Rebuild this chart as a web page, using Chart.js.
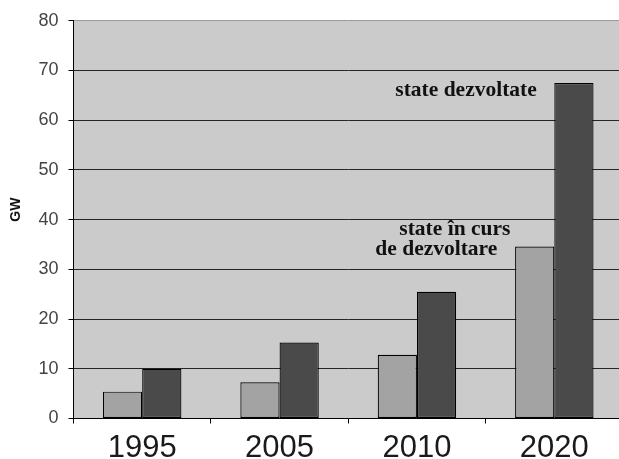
<!DOCTYPE html>
<html>
<head>
<meta charset="utf-8">
<script src="https://cdn.jsdelivr.net/npm/chart.js@4"></script>
<style>
  html, body { margin: 0; padding: 0; background: #ffffff; overflow: hidden; }
  /* the plot runs slightly past the right edge of the window */
  #wrap { width: 623px; height: 459px; position: relative; }
</style>
</head>
<body>
<div id="wrap"><canvas id="c"></canvas></div>
<script>
// Installed wind power capacity (GW) by year
const categories = ['1995', '2005', '2010', '2020'];
const developing = [5.4, 7.3, 12.8, 34.6];   // state în curs de dezvoltare
const developed = [10, 15.3, 25.5, 67.5];    // state dezvoltate
const yMin = 0, yMax = 80, yStep = 10;
const yTitle = 'GW';

// In-plot series captions: text, category anchor, pixel offset from it, baseline value
const captions = [
  { text: 'state dezvoltate', cat: 3, dx: -159, value: 64.8 },
  { text: 'state în curs', cat: 3, dx: -155, value: 36.9 },
  { text: 'de dezvoltare', cat: 3, dx: -179, value: 32.9 }
];

const PLOT_BG = '#cbcbcb';
const GRID = '#262626';

const plotBackground = {
  id: 'plotBackground',
  beforeDraw(chart) {
    const { ctx, chartArea } = chart;
    ctx.save();
    ctx.fillStyle = PLOT_BG;
    ctx.fillRect(chartArea.left, chartArea.top, chartArea.right - chartArea.left, chartArea.bottom - chartArea.top);
    ctx.restore();
  }
};

// Captions inside the plot and the rotated axis title
const chartTexts = {
  id: 'chartTexts',
  afterDatasetsDraw(chart) {
    const { ctx, scales } = chart;
    ctx.save();
    ctx.fillStyle = '#111111';
    ctx.font = 'bold 21.5px "Liberation Serif", "Times New Roman", serif';
    ctx.textAlign = 'left';
    ctx.textBaseline = 'alphabetic';
    captions.forEach(c => {
      const px = scales.x.getPixelForValue(c.cat) + c.dx;
      const py = scales.y.getPixelForValue(c.value);
      ctx.fillText(c.text, px, py);
    });
    ctx.restore();

    ctx.save();
    ctx.fillStyle = '#111111';
    ctx.font = 'bold 14px "Liberation Sans", Arial, sans-serif';
    ctx.textAlign = 'center';
    ctx.textBaseline = 'middle';
    ctx.translate(16, scales.y.getPixelForValue(42));
    ctx.rotate(-Math.PI / 2);
    ctx.fillText(yTitle, 0, 0);
    ctx.restore();
  }
};

new Chart(document.getElementById('c'), {
  type: 'bar',
  data: {
    labels: categories,
    datasets: [
      {
        label: 'state în curs de dezvoltare',
        data: developing,
        backgroundColor: '#a3a3a3',
        borderColor: '#000000',
        borderWidth: 1.2,
        borderSkipped: false
      },
      {
        label: 'state dezvoltate',
        data: developed,
        backgroundColor: '#4a4a4a',
        borderColor: '#000000',
        borderWidth: 1.2,
        borderSkipped: false
      }
    ]
  },
  options: {
    responsive: true,
    maintainAspectRatio: false,
    animation: false,
    devicePixelRatio: 1,
    layout: { padding: { top: 19, right: 0, left: 0, bottom: 0 } },
    datasets: { bar: { barPercentage: 1.0, categoryPercentage: 0.571 } },
    plugins: {
      legend: { display: false },
      tooltip: { enabled: false }
    },
    scales: {
      x: {
        grid: {
          drawOnChartArea: false,
          drawTicks: true,
          tickLength: 5,
          // the closing boundary line after the last category has no tick context
          tickColor: ctx => (ctx.type === 'tick' && ctx.index < categories.length) ? '#000000' : 'rgba(0,0,0,0)',
          offset: true
        },
        border: { display: true, color: '#000000', width: 1 },
        ticks: {
          color: '#1a1a1a',
          padding: 6,
          font: { family: '"Liberation Sans", Arial, sans-serif', size: 31 }
        },
        afterFit(s) { s.height = 40.5; }
      },
      y: {
        min: yMin,
        max: yMax,
        ticks: {
          stepSize: yStep,
          color: '#444444',
          padding: 10,
          font: { family: '"Liberation Sans", Arial, sans-serif', size: 18 }
        },
        grid: {
          drawOnChartArea: true,
          drawTicks: true,
          tickLength: 5,
          lineWidth: 1,
          color: ctx => (ctx.tick && ctx.tick.value === yMax) ? '#9a9a9a' : GRID,
          tickColor: '#000000'
        },
        border: { display: true, color: '#000000', width: 1 },
        afterFit(s) { s.width = 73.5; }
      }
    }
  },
  plugins: [plotBackground, chartTexts]
});
</script>
</body>
</html>
